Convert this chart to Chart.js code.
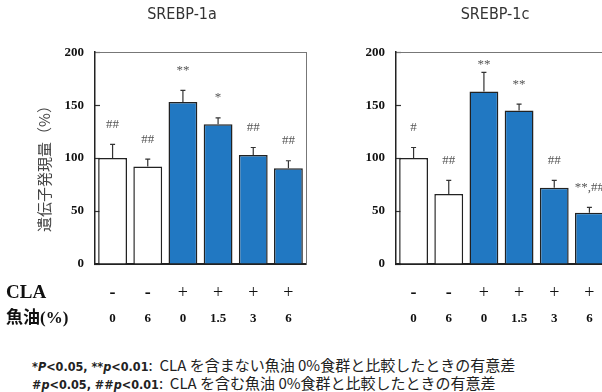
<!DOCTYPE html>
<html lang="ja">
<head>
<meta charset="UTF-8">
<title>SREBP-1a / SREBP-1c</title>
<script src="https://cdn.jsdelivr.net/npm/chart.js@4.4.1/dist/chart.umd.min.js"></script>
<style>
body{margin:0;width:602px;height:392px;overflow:hidden;position:relative;background:#fff}
.box{position:absolute;top:0}
#notes{position:absolute;left:32px;top:357px;font:15px/16px "Noto Sans CJK JP";color:#222;white-space:nowrap}
#notes b{font-family:"DejaVu Sans Condensed";font-size:12.5px}
</style>
</head>
<body>
<div class="box" style="left:0"><canvas id="c1" width="364" height="340"></canvas></div>
<div class="box" style="left:310px"><canvas id="c2" width="370" height="340"></canvas></div>
<div id="notes">
<div><b>*<i>P</i>&lt;0.05, **<i>p</i>&lt;0.01</b>:&nbsp; CLA を含まない魚油 0%食群と比較したときの有意差</div>
<div><b>#<i>p</i>&lt;0.05, ##<i>p</i>&lt;0.01</b>:&nbsp; CLA を含む魚油 0%食群と比較したときの有意差</div>
</div>
<script>
// groups: CLA on/off and fish oil level
const cla = ['-', '-', '+', '+', '+', '+'];
const fishOil = ['0', '6', '0', '1.5', '3', '6'];
const groups = cla.map((c, i) => 'CLA' + c + ' 魚油' + fishOil[i] + '%');

const srebp1a = [100, 92, 153, 132, 103, 90.5];
const srebp1aErr = [13, 7, 11, 6, 7, 7];
const srebp1aSig = ['##', '##', '**', '*', '##', '##'];

const srebp1c = [100, 66, 163, 145, 72, 48.5];
const srebp1cErr = [10, 13, 18, 6, 7, 5];
const srebp1cSig = ['#', '##', '**', '**', '##', '**,##'];

const yTicks = [0, 50, 100, 150, 200];

const SERIF = '"Liberation Serif", "Noto Sans CJK JP"';

// error bars, significance marks and the treatment rows under each panel
const decor = {
  id: 'decor',
  afterDatasetsDraw(chart, args, o) {
    const {ctx, chartArea: a, scales: {x, y}} = chart;
    const vals = chart.data.datasets[0].data;
    ctx.save();
    ctx.textAlign = 'center';
    ctx.textBaseline = 'middle';
    vals.forEach((v, i) => {
      const px = x.getPixelForValue(i);
      const y0 = y.getPixelForValue(v);
      const y1 = y.getPixelForValue(v + o.err[i]);
      ctx.strokeStyle = '#333';
      ctx.lineWidth = 1.2;
      ctx.beginPath();
      ctx.moveTo(px, y0); ctx.lineTo(px, y1);
      ctx.moveTo(px - 2.5, y1); ctx.lineTo(px + 2.5, y1);
      ctx.stroke();
      ctx.fillStyle = '#555';
      ctx.font = '13px ' + SERIF;
      ctx.fillText(o.sig[i], px, Math.max(y1 - 20, a.top + 12));
    });
    ctx.fillStyle = '#111';
    cla.forEach((c, i) => {
      const px = x.getPixelForValue(i);
      ctx.font = (c === '-' ? 'bold ' : '') + '18px ' + SERIF;
      ctx.fillText(c, px, a.bottom + 29);
      ctx.font = 'bold 13px ' + SERIF;
      ctx.fillText(fishOil[i], px, a.bottom + 55);
    });
    if (o.heads) {
      ctx.textAlign = 'left';
      ctx.font = 'bold 19px ' + SERIF;
      ctx.fillText('CLA', 6, a.bottom + 29);
      ctx.font = 'bold 17px ' + SERIF;
      ctx.fillText('魚油(%)', 6, a.bottom + 55);
    }
    if (o.yTitle) {
      ctx.translate(44, 165);
      ctx.rotate(-Math.PI / 2);
      ctx.textAlign = 'center';
      ctx.fillStyle = '#444';
      ctx.font = '15px "Noto Sans CJK JP"';
      ctx.fillText(o.yTitle, 0, 0);
    }
    ctx.restore();
  }
};

function panel(id, title, values, err, sig, o) {
  return new Chart(document.getElementById(id), {
    type: 'bar',
    data: {
      labels: groups,
      datasets: [{
        data: values,
        backgroundColor: cla.map(c => c === '+' ? '#2178c2' : '#ffffff'),
        borderColor: '#222',
        borderWidth: 1.5,
        barPercentage: 0.82,
        categoryPercentage: 1
      }]
    },
    options: {
      responsive: false,
      animation: false,
      layout: {padding: {bottom: 76}},
      plugins: {
        legend: {display: false},
        tooltip: {enabled: false},
        title: {
          display: true, text: title, color: '#333',
          font: {family: '"DejaVu Sans Condensed"', size: 16, weight: 'normal'},
          padding: {top: 5, bottom: 28}
        },
        decor: {err, sig, heads: o.heads, yTitle: o.yTitle}
      },
      scales: {
        x: {
          grid: {display: false, drawTicks: false},
          ticks: {display: false},
          border: {color: '#222', width: 2}
        },
        x2: {
          position: 'top',
          grid: {display: false, drawTicks: false},
          ticks: {display: false},
          border: {color: '#777', width: 1}
        },
        y: {
          min: 0, max: 200,
          afterBuildTicks: s => { s.ticks = yTicks.map(v => ({value: v})); },
          ticks: {color: '#111', padding: 16, font: {family: SERIF, size: 13, weight: 'bold'}},
          grid: {drawOnChartArea: false, tickLength: -5, color: '#333', tickWidth: 1.2},
          border: {color: '#222', width: 1.5},
          afterFit: s => { s.width = o.axisW; }
        },
        y2: {
          position: 'right',
          grid: {display: false, drawTicks: false},
          ticks: {display: false},
          border: {color: '#777', width: 1},
          afterFit: s => { s.width = o.rightW; }
        }
      }
    },
    plugins: [decor]
  });
}

panel('c1', 'SREBP-1a', srebp1a, srebp1aErr, srebp1aSig,
  {axisW: 95, rightW: 58, heads: true, yTitle: '遺伝子発現量（%）'});
panel('c2', 'SREBP-1c', srebp1c, srebp1cErr, srebp1cSig,
  {axisW: 86, rightW: 73});
</script>
</body>
</html>
